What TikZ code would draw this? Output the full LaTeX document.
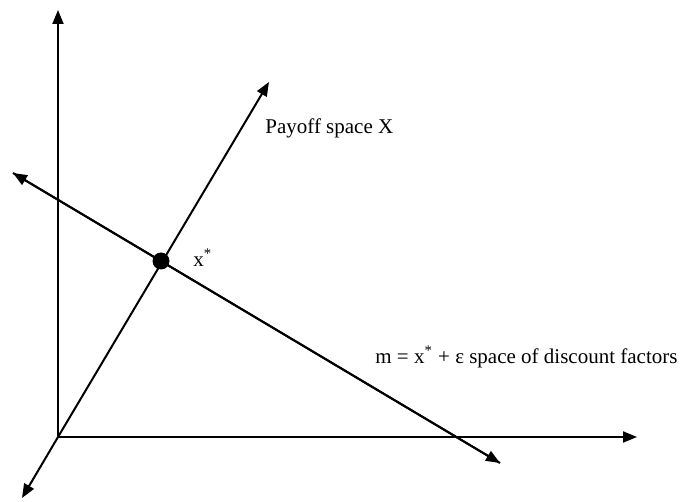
\documentclass[tikz,border=0pt]{standalone}
\usepackage{fontspec}
\setmainfont{Liberation Serif}
\usetikzlibrary{arrows.meta}
\begin{document}
\begin{tikzpicture}[x=0.5pt,y=-0.5pt,
  axis/.style={line width=1pt,-{Triangle[length=7pt,width=5.5pt]}},
  lbl/.style={anchor=west,inner sep=0pt,font=\fontsize{10.5}{12}\selectfont}]
\useasboundingbox (0,0) rectangle (681,502);
\coordinate (O) at (58,437);
\coordinate (Ytip) at (58,10);
\coordinate (Xtip) at (637,437);
\coordinate (Pup) at (269,82);
\coordinate (Pdn) at (22,498);
\coordinate (Mup) at (13,173);
\coordinate (Mdn) at (500,463);
\draw[axis] (O) -- (Ytip);
\draw[axis] (O) -- (Xtip);
\draw[axis] (O) -- (Pup);
\draw[axis] (O) -- (Pdn);
\draw[axis] (Mup) -- (Mdn);
\draw[axis] (Mdn) -- (Mup);
\node[circle,fill=black,inner sep=0pt,minimum size=8.5] (xs) at (161,261) {};
\node[lbl] (payoff) at (265,128) {Payoff space X};
\node[lbl] (xlab) at (193,258) {x\textsuperscript{*}};
\node[lbl] (mlab) at (375,357) {m = x\textsuperscript{*} + ε space of discount factors};
\end{tikzpicture}
\end{document}
